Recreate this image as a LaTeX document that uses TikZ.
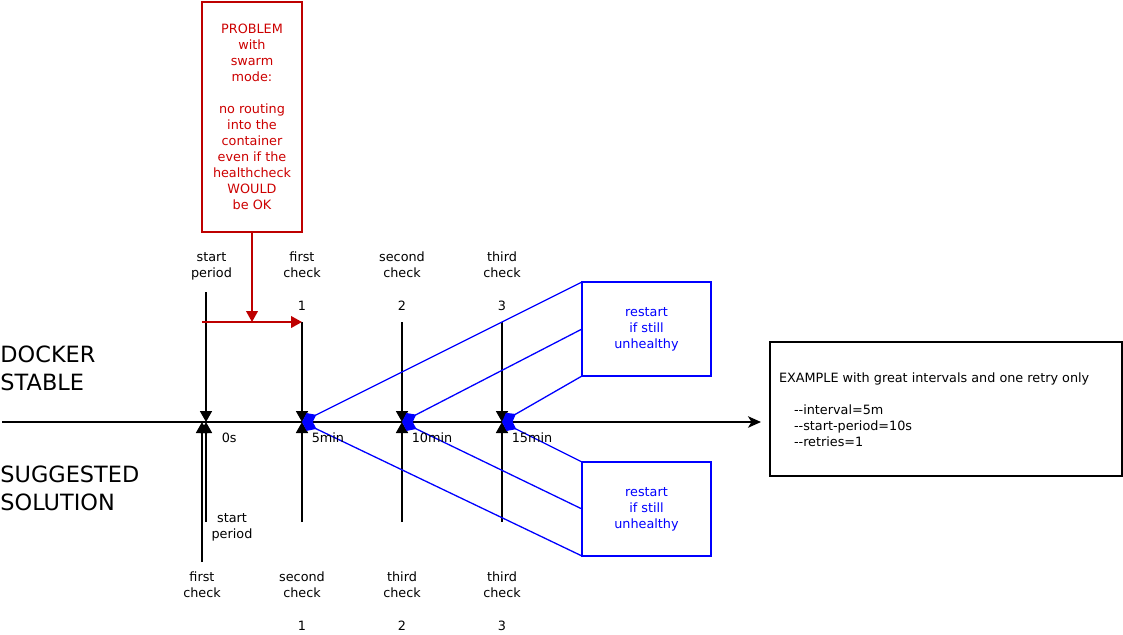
\documentclass[tikz,border=0pt]{standalone}
\usepackage{fontspec}
\setmainfont{DejaVu Sans}
\usetikzlibrary{arrows.meta}
\definecolor{probred}{RGB}{190,0,0}
\definecolor{probtext}{RGB}{204,0,0}
\begin{document}
\begin{tikzpicture}[x=1pt,y=-1pt,
  lbl/.style={font=\fontsize{12.8}{16}\selectfont, inner sep=0pt, outer sep=0pt, align=center, text=black},
  biglbl/.style={font=\fontsize{22.4}{27.7}\selectfont, inner sep=0pt, outer sep=0pt, align=left, anchor=west},
  tick/.style={line width=1.7pt, -{Triangle[length=11pt,width=12pt]}},
  axisline/.style={line width=1.7pt, -{Stealth[length=13pt,width=11.5pt,inset=3.5pt]}},
  redarrow/.style={draw=probred, line width=1.7pt, -{Triangle[length=11pt,width=11.7pt]}},
  bluelink/.style={draw=blue, line width=1.3pt, -{Diamond[length=16pt,width=12pt]}},
  bluebox/.style={draw=blue, line width=1.6pt, minimum width=129pt, minimum height=94pt, inner sep=0pt, outer sep=0pt, font=\fontsize{12.8}{16}\selectfont, text=blue, align=center},
  probbox/.style={draw=probred, line width=1.7pt, minimum width=100pt, minimum height=230pt, inner sep=0pt, outer sep=0pt, font=\fontsize{12.8}{16}\selectfont, text=probtext, align=center},
  examplebox/.style={draw=black, line width=1.7pt, minimum width=352pt, minimum height=134pt, inner sep=0pt, outer sep=0pt}
]
\useasboundingbox (0,0) rectangle (1123,634);

% coordinates on the axis
\coordinate (ax0) at (2,422);
\coordinate (ax1) at (761,422);
\coordinate (p0) at (206,422);
\coordinate (p0b) at (202,422);
\coordinate (p1) at (302,422);
\coordinate (p2) at (402,422);
\coordinate (p3) at (502,422);
% top starts
\coordinate (ts0) at (206,292);
\coordinate (ts1) at (302,322);
\coordinate (ts2) at (402,322);
\coordinate (ts3) at (502,322);
% bottom starts
\coordinate (bs0a) at (202,562);
\coordinate (bs0b) at (206,522);
\coordinate (bs1) at (302,522);
\coordinate (bs2) at (402,522);
\coordinate (bs3) at (502,522);
% red arrow points
\coordinate (rs) at (202,322);
\coordinate (rj) at (252,322);

% boxes
\node[probbox] (prob) at (252,117) {PROBLEM\\with\\swarm\\mode:\\[16pt]no routing\\into the\\container\\even if the\\healthcheck\\WOULD\\be OK};
\node[bluebox] (rbox1) at (646.5,329) {restart\\if still\\unhealthy};
\node[bluebox] (rbox2) at (646.5,509) {restart\\if still\\unhealthy};
\node[examplebox] (ex) at (946,409) {};
\node[lbl, align=left, anchor=west] (extext) at (779,409.5) {EXAMPLE with great intervals and one retry only\\[16pt]\hspace*{15pt}-{}-interval=5m\\\hspace*{15pt}-{}-start-period=10s\\\hspace*{15pt}-{}-retries=1};

% left titles
\node[biglbl] (docker) at (0.5,368) {DOCKER\\STABLE};
\node[biglbl] (suggest) at (0.5,488) {SUGGESTED\\SOLUTION};

% axis
\draw[axisline] (ax0) -- (ax1);

% top ticks
\draw[tick] (ts0) -- (p0);
\draw[tick] (ts1) -- (p1);
\draw[tick] (ts2) -- (p2);
\draw[tick] (ts3) -- (p3);
% bottom ticks
\draw[tick] (bs0a) -- (p0b);
\draw[tick] (bs0b) -- (p0);
\draw[tick] (bs1) -- (p1);
\draw[tick] (bs2) -- (p2);
\draw[tick] (bs3) -- (p3);

% blue links
\draw[bluelink] (rbox1.north west) -- (p1);
\draw[bluelink] (rbox1.west) -- (p2);
\draw[bluelink] (rbox1.south west) -- (p3);
\draw[bluelink] (rbox2.north west) -- (p3);
\draw[bluelink] (rbox2.west) -- (p2);
\draw[bluelink] (rbox2.south west) -- (p1);

% red arrows
\draw[redarrow] (prob.south) -- (rj);
\draw[redarrow] (rs) -- (ts1);

% top labels
\node[lbl] (lsp) at (211.5,266.7) {start\\period};
\node[lbl] (lfc) at (302,265.2) {first\\check};
\node[lbl] (lsc) at (402,265.2) {second\\check};
\node[lbl] (ltc) at (502,265.2) {third\\check};
\node[lbl, anchor=base] (n1) at (302,310) {1};
\node[lbl, anchor=base] (n2) at (402,310) {2};
\node[lbl, anchor=base] (n3) at (502,310) {3};

% axis labels
\node[lbl, anchor=base west] (t0) at (221.8,442) {0s};
\node[lbl, anchor=base west] (t1) at (311.8,442) {5min};
\node[lbl, anchor=base west] (t2) at (411.8,442) {10min};
\node[lbl, anchor=base west] (t3) at (511.8,442) {15min};

% bottom labels
\node[lbl] (bsp) at (232,527) {start\\period};
\node[lbl] (bfc) at (202,585.2) {first\\check};
\node[lbl] (bsc) at (302,585.2) {second\\check};
\node[lbl] (btc2) at (402,585.2) {third\\check};
\node[lbl] (btc3) at (502,585.2) {third\\check};
\node[lbl, anchor=base] (m1) at (302,630) {1};
\node[lbl, anchor=base] (m2) at (402,630) {2};
\node[lbl, anchor=base] (m3) at (502,630) {3};
\end{tikzpicture}
\end{document}
